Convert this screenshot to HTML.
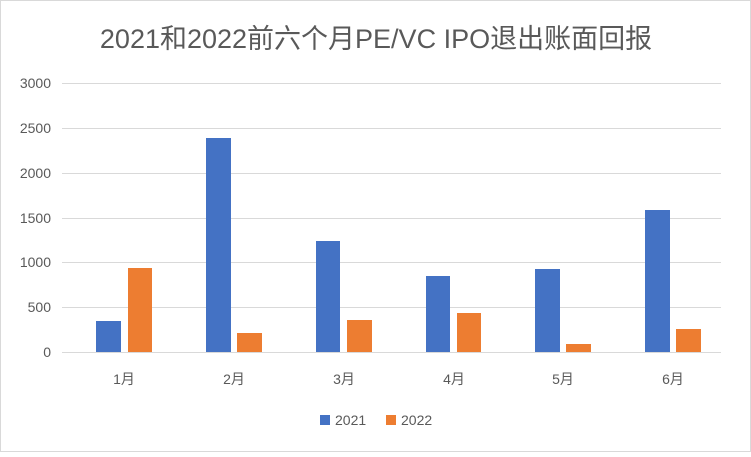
<!DOCTYPE html>
<html><head><meta charset="utf-8"><style>
body{margin:0;background:#fff}
svg text{font-family:"Liberation Sans","Noto Sans CJK SC",sans-serif;fill:#595959}
</style></head><body>
<svg width="751" height="452" viewBox="0 0 751 452" xmlns="http://www.w3.org/2000/svg">
<rect x="0.5" y="0.5" width="750" height="451" fill="#fff" stroke="#d9d9d9"/>
<text x="376" y="48" font-size="27" text-anchor="middle">2021和2022前六个月PE/VC IPO退出账面回报</text>
<g stroke="#d9d9d9" stroke-width="1">
<line x1="62" x2="721" y1="83.5" y2="83.5"/>
<line x1="62" x2="721" y1="128.5" y2="128.5"/>
<line x1="62" x2="721" y1="173.5" y2="173.5"/>
<line x1="62" x2="721" y1="218.5" y2="218.5"/>
<line x1="62" x2="721" y1="262.5" y2="262.5"/>
<line x1="62" x2="721" y1="307.5" y2="307.5"/>
<line x1="62" x2="721" y1="352.5" y2="352.5"/>
</g>
<g font-size="14" text-anchor="end">
<text x="51" y="88">3000</text><text x="51" y="133">2500</text><text x="51" y="178">2000</text>
<text x="51" y="223">1500</text><text x="51" y="267">1000</text><text x="51" y="312">500</text><text x="51" y="357">0</text>
</g>
<g fill="#4472c4">
<rect x="96" y="321" width="25" height="31"/>
<rect x="206" y="138" width="25" height="214"/>
<rect x="316" y="241" width="24" height="111"/>
<rect x="426" y="276" width="24" height="76"/>
<rect x="535" y="269" width="25" height="83"/>
<rect x="645" y="210" width="25" height="142"/>
</g>
<g fill="#ed7d31">
<rect x="128" y="268" width="24" height="84"/>
<rect x="237" y="333" width="25" height="19"/>
<rect x="347" y="320" width="25" height="32"/>
<rect x="457" y="313" width="24" height="39"/>
<rect x="566" y="344" width="25" height="8"/>
<rect x="676" y="329" width="25" height="23"/>
</g>
<g font-size="14" text-anchor="middle">
<text x="124" y="384">1月</text><text x="234" y="384">2月</text><text x="344" y="384">3月</text>
<text x="454" y="384">4月</text><text x="563" y="384">5月</text><text x="673" y="384">6月</text>
</g>
<rect x="320" y="415" width="10" height="10" fill="#4472c4"/>
<text x="335" y="425" font-size="14">2021</text>
<rect x="386" y="415" width="10" height="10" fill="#ed7d31"/>
<text x="401" y="425" font-size="14">2022</text>
</svg>
</body></html>
